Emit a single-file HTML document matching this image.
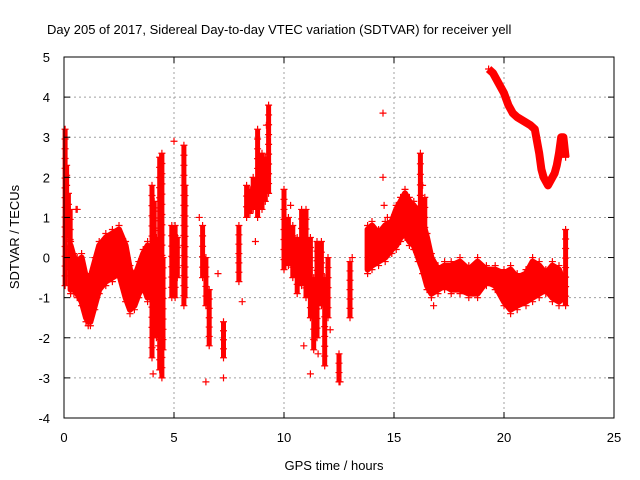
<!DOCTYPE html>
<html><head><meta charset="utf-8"><style>
html,body{margin:0;padding:0;background:#fff}
svg{display:block}
text{font-family:"Liberation Sans",sans-serif;font-size:13px;fill:#000}
</style></head><body>
<svg id="chart" width="640" height="480">
<text x="47" y="34">Day 205 of 2017, Sidereal Day-to-day VTEC variation (SDTVAR) for receiver yell</text>
<g id="grid"></g>
<g id="marks"></g>
<rect x="64" y="57" width="550" height="361" fill="none" stroke="#000" stroke-width="1"/>
<g id="ticks"></g>
<text x="334" y="470" text-anchor="middle">GPS time / hours</text>
<text transform="translate(19,237) rotate(-90)" text-anchor="middle">SDTVAR / TECUs</text>
</svg>
<script>
const xTicks=[0,5,10,15,20,25];
const yTicks=[-4,-3,-2,-1,0,1,2,3,4,5];
// dense band 0.3-3.9 h
const bandHours=[0.3,0.45,0.6,0.8,1.0,1.1,1.2,1.4,1.6,1.9,2.2,2.5,2.8,3.0,3.2,3.4,3.6,3.8,3.9];
const bandUpper=[0.3,0.0,-0.1,0.0,-0.5,-0.6,-0.5,-0.1,0.3,0.5,0.6,0.7,0.3,-0.3,-0.5,-0.2,0.1,0.3,0.0];
const bandLower=[-0.8,-0.8,-0.9,-1.1,-1.5,-1.6,-1.6,-1.2,-0.8,-0.6,-0.5,-0.4,-1.0,-1.3,-1.2,-0.9,-0.7,-1.0,-0.9];
// dense band 13.8-22.7 h
const midHours=[13.8,14.0,14.3,14.6,14.9,15.1,15.3,15.5,15.7,15.9,16.1,16.3,16.5,16.7,17.0,17.3,17.6,18.0,18.4,18.8,19.2,19.6,20.0,20.3,20.6,21.0,21.3,21.6,21.9,22.2,22.5,22.7];
const midUpper=[0.7,0.8,0.6,0.8,0.9,1.2,1.4,1.6,1.4,1.3,1.1,0.9,0.5,0.0,-0.3,-0.2,-0.2,-0.1,-0.3,-0.1,-0.3,-0.3,-0.4,-0.3,-0.5,-0.4,-0.1,-0.2,-0.4,-0.2,-0.3,-0.6];
const midLower=[-0.3,-0.2,-0.1,0.0,0.2,0.3,0.5,0.6,0.4,0.3,0.0,-0.3,-0.7,-0.9,-0.8,-0.7,-0.8,-0.8,-0.9,-0.9,-0.6,-0.7,-1.1,-1.3,-1.2,-1.1,-1.0,-0.9,-0.8,-1.0,-1.1,-1.0];
// upper arc 19.3-22.9 h
const arcHours=[19.3,19.5,19.7,19.9,20.0,20.2,20.4,20.6,20.9,21.2,21.4,21.5,21.6,21.7,21.8,21.9,22.0,22.1,22.2,22.3,22.4,22.5,22.6,22.7,22.8];
const arcVals=[4.7,4.6,4.4,4.2,4.1,3.8,3.6,3.5,3.4,3.3,3.2,2.9,2.6,2.2,2.0,1.9,1.8,1.9,2.0,2.1,2.3,2.6,3.0,3.0,2.5];
// vertical clusters: hour, min, max
const colHours=[0.05,0.12,0.2,0.28,4.0,4.1,4.2,4.35,4.45,4.5,4.9,5.05,5.15,5.45,5.5,6.3,6.45,6.6,7.25,7.95,8.3,8.45,8.6,8.8,9.0,9.15,9.3,10.0,10.2,10.4,10.6,10.8,11.0,11.2,11.35,11.5,11.7,11.85,12.0,12.5,13.0,16.2,16.4,22.8];
const colMin=[-0.7,0.8,0.5,-0.3,-2.5,-1.5,-2.0,-2.8,-3.0,-2.3,-1.0,-1.0,-0.5,-1.2,-1.0,-0.5,-1.2,-2.2,-2.5,-0.6,1.0,1.1,1.2,1.0,1.2,1.4,1.6,-0.3,-0.2,-0.5,-0.9,-0.7,-1.0,-1.5,-2.3,-2.0,-1.2,-2.7,-1.5,-3.1,-1.5,0.5,0.0,-1.2];
const colMax=[3.2,2.3,1.6,1.2,1.8,1.4,0.5,2.5,2.6,0.0,0.8,0.8,0.5,2.8,1.8,0.8,0.0,-0.8,-1.6,0.8,1.8,1.7,2.0,3.2,2.6,2.5,3.8,1.7,1.0,0.8,0.5,1.2,1.2,0.5,-0.5,0.4,0.4,-0.5,0.0,-2.4,-0.1,2.6,1.5,0.7];
// isolated points
const isoHours=[0.55,0.6,4.3,4.05,5.0,6.15,6.45,7.0,7.25,8.1,8.7,9.2,10.3,10.9,11.2,11.55,12.1,12.55,13.1,14.5,14.5,14.55,16.3,16.8,14.7];
const isoVals=[1.2,1.2,-2.2,-2.9,2.9,1.0,-3.1,-0.4,-3.0,-1.1,0.4,3.3,1.3,-2.2,-2.9,-2.4,-1.8,-3.1,0.0,3.6,2.0,1.3,1.8,-1.2,1.0];
const X0=64,X1=614,Y0=418,Y1=57;
const xs=h=>X0+h/25*(X1-X0);
const ys=v=>Y0-(v+4)/9*(Y0-Y1);
const NS='http://www.w3.org/2000/svg';
const grid=document.getElementById('grid'),ticks=document.getElementById('ticks'),marks=document.getElementById('marks');
function mk(tag,attrs,parent){const e=document.createElementNS(NS,tag);for(const k in attrs)e.setAttribute(k,attrs[k]);parent.appendChild(e);return e;}
xTicks.forEach(t=>{const x=xs(t);
 if(t>0&&t<25){const g=mk('line',{x1:x,x2:x,y1:Y1,y2:Y0,stroke:'#a0a0a0','stroke-dasharray':'2,3'},grid);
 
 }
 mk('line',{x1:x,x2:x,y1:Y0,y2:Y0-6,stroke:'#000'},ticks);mk('line',{x1:x,x2:x,y1:Y1,y2:Y1+6,stroke:'#000'},ticks);
 const l=mk('text',{x:x,y:Y0+24,'text-anchor':'middle'},ticks);l.textContent=t;
 
 });
yTicks.forEach(t=>{const y=ys(t);
 if(t>-4&&t<5){const g=mk('line',{x1:X0,x2:X1,y1:y,y2:y,stroke:'#a0a0a0','stroke-dasharray':'2,3'},grid);
 
 }
 mk('line',{x1:X0,x2:X0+6,y1:y,y2:y,stroke:'#000'},ticks);mk('line',{x1:X1,x2:X1-6,y1:y,y2:y,stroke:'#000'},ticks);
 const l=mk('text',{x:X0-14,y:y+5,'text-anchor':'end'},ticks);l.textContent=t;
 
 });
function plus(h,v){const x=xs(h),y=ys(v);
 const p=mk('path',{d:`M${x-3.5},${y}h7M${x},${y-3.5}v7`,stroke:'#f00','stroke-width':1.2},marks);
 
 }
function band(hs,up,lo){
 const pts=hs.map((h,i)=>xs(h)+','+ys(up[i])).concat(hs.slice().reverse().map((h,j)=>xs(h)+','+ys(lo[hs.length-1-j])));
 const pg=mk('polygon',{points:pts.join(' '),fill:'#f00',stroke:'#f00','stroke-width':6,'stroke-linejoin':'round'},marks);
 
 
 hs.forEach((h,i)=>{plus(h,up[i]+0.1);plus(h,lo[i]-0.1);});}
band(bandHours,bandUpper,bandLower);
band(midHours,midUpper,midLower);
const arc=mk('polyline',{points:arcHours.map((h,i)=>xs(h)+','+ys(arcVals[i])).join(' '),fill:'none',stroke:'#f00','stroke-width':8,'stroke-linejoin':'round'},marks);


arcHours.forEach((h,i)=>plus(h,arcVals[i]));
colHours.forEach((h,i)=>{
 const c=mk('line',{x1:xs(h),x2:xs(h),y1:ys(colMin[i]),y2:ys(colMax[i]),stroke:'#f00','stroke-width':5},marks);
 
 
 const n=Math.max(2,Math.round((colMax[i]-colMin[i])/0.25));
 for(let k=0;k<=n;k++)plus(h,colMin[i]+(colMax[i]-colMin[i])*k/n);
});
isoHours.forEach((h,i)=>plus(h,isoVals[i]));
</script>
</body></html>
